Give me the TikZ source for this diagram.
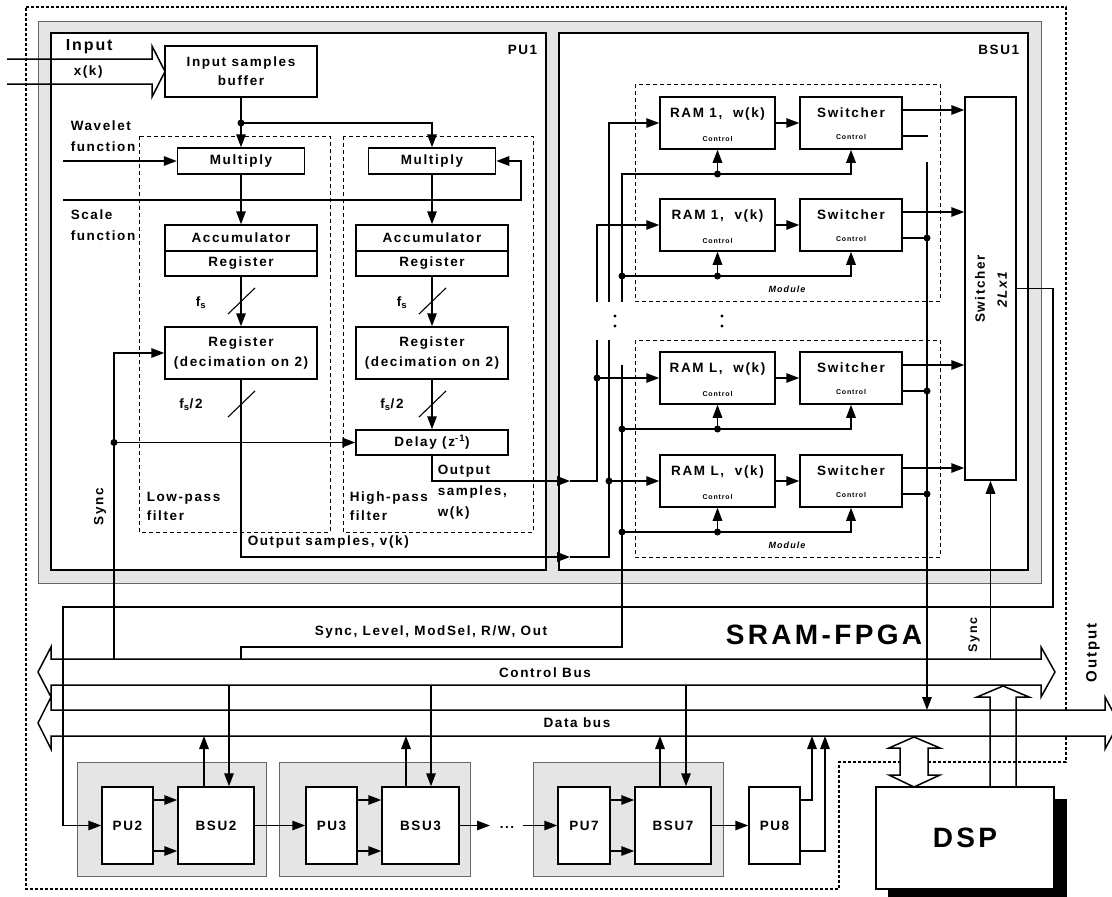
\documentclass[tikz,border=0pt]{standalone}
\usepackage{fontspec}
\setmainfont{Liberation Sans}[LetterSpace=12]
\usetikzlibrary{arrows.meta}
\newcommand\myfont[2]{\bfseries\fontsize{#1}{#2}\selectfont}
\begin{document}
\begin{tikzpicture}[x=1pt,y=-1pt,
  line width=1.5pt,
  >={Triangle[length=13pt,width=9.5pt]},
  blk/.style={draw,line width=1.5pt,fill=white,inner sep=0pt,font=\myfont{13.5}{19},align=center},
  tx/.style={inner sep=0pt,font=\myfont{13.5}{21}},
  small/.style={inner sep=0pt,font=\myfont{7}{8}},
  modl/.style={inner sep=0pt,font=\bfseries\itshape\fontsize{9}{10}\selectfont},
  fdash/.style={line width=0.8pt,dash pattern=on 4pt off 3pt},
  slash/.style={line width=1.1pt},
  hollow/.style={line width=1.5pt,fill=white,line join=miter},
]
\clip (0,0) rectangle (1112,897);
% outer dashed boundary (SRAM-FPGA)
\draw[line width=1.1pt,dash pattern=on 3pt off 2pt] (26,7) -- (1066,7) -- (1066,762) -- (839,762) -- (839,889) -- (26,889) -- cycle;
% gray frame and units
\draw[fill=gray!20,draw=black!60,line width=0.9pt] (38,21) rectangle (1041,583);
\draw[fill=white] (51,33) rectangle (546,570);
\draw[fill=white] (559,33) rectangle (1028,570);
\node[tx,anchor=east] at (538,50) {PU1};
\node[tx,anchor=east] at (1020,50) {BSU1};
% filter boxes
\draw[fdash] (139,136) rectangle (330,532);
\draw[fdash] (343,136) rectangle (533,532);
% modules
\draw[fdash] (635,84) rectangle (940,301);
\draw[fdash] (635,340) rectangle (940,557);
\node[modl] at (787,289) {Module};
\node[modl] at (787,545) {Module};

% input arrow
\draw[line join=miter] (7,59) -- (152,59) -- (152,46) -- (165,71.5) -- (152,97) -- (152,84) -- (7,84);
\node[tx,font=\myfont{16}{18},anchor=west] at (65,47) {Input};
\node[tx,anchor=west] at (73,72) {x(k)};

% PU1 blocks
\node[blk,minimum width=152,minimum height=51] (buf) at (241,71.5) {Input samples\\buffer};
\node[blk,minimum width=127,minimum height=26] (mulL) at (241,161) {Multiply};
\node[blk,minimum width=127,minimum height=26] (mulR) at (432,161) {Multiply};
\node[blk,minimum width=152,minimum height=26] (accL) at (241,238) {Accumulator};
\node[blk,minimum width=152,minimum height=25] (racL) at (241,263.5) {Register};
\node[blk,minimum width=152,minimum height=26] (accR) at (432,238) {Accumulator};
\node[blk,minimum width=152,minimum height=25] (racR) at (432,263.5) {Register};
\node[blk,minimum width=152,minimum height=52,font=\myfont{13.5}{20}] (regL) at (241,353) {Register\\(decimation on 2)};
\node[blk,minimum width=152,minimum height=52,font=\myfont{13.5}{20}] (regR) at (432,353) {Register\\(decimation on 2)};
\node[blk,minimum width=152,minimum height=25] (delay) at (432,442.5) {Delay (z\textsuperscript{-1})};

% texts PU1
\node[tx,anchor=west,align=left] at (70,136.5) {Wavelet\\function};
\node[tx,anchor=west,align=left] at (70,225.5) {Scale\\function};
\node[tx] at (201,303) {f\textsubscript{s}};
\node[tx] at (402,303) {f\textsubscript{s}};
\node[tx] at (191,405) {f\textsubscript{s}/2};
\node[tx] at (392,405) {f\textsubscript{s}/2};
\node[tx,anchor=west,align=left,font=\myfont{13.5}{19}] at (146,506.5) {Low-pass\\filter};
\node[tx,anchor=west,align=left,font=\myfont{13.5}{19}] at (349,506.5) {High-pass\\filter};
\node[tx,anchor=west,align=left] at (437,492) {Output\\samples,\\w(k)};
\node[tx,anchor=west] at (247,542) {Output samples, v(k)};
\node[tx,rotate=90] at (100,507) {Sync};

% PU1 connectors
\coordinate (d0) at (241,123);
\draw (buf.south) -- (d0);
\draw[->] (d0) -- (mulL.north);
\draw[->] (d0) -| (mulR.north);
\fill (d0) circle (3.5pt);
\coordinate (wav) at (63,161);
\draw[->] (wav) -- (mulL.west);
\coordinate (scl) at (63,200);
\coordinate (sclR) at (521,200);
\draw[->] (scl) -- (sclR) |- (mulR.east);
\draw[->] (mulL.south) -- (accL.north);
\draw[->] (mulR.south) -- (accR.north);
\draw[->] (racL.south) -- (regL.north);
\draw[->] (racR.south) -- (regR.north);
\draw[slash] (228,314) -- (255,288);
\draw[slash] (419,314) -- (446,288);
\draw[->] (regR.south) -- (delay.north);
\draw[slash] (419,417) -- (446,391);
\draw[slash] (228,417) -- (255,391);
% v(k) line
\coordinate (vkA) at (570,557);
\coordinate (vkC) at (609,557);
\draw[->] (regL.south) |- (vkA);
\draw (vkA) -- (vkC) -- (609,340);
% w(k) line
\coordinate (wkA) at (570,481);
\coordinate (wkC) at (597,481);
\draw[->] (delay.south) |- (wkA);
\draw (wkA) -- (wkC) -- (597,340);
% sync
\coordinate (syncB) at (114,659);
\coordinate (syncD) at (114,442.5);
\draw[->] (syncB) |- (regL.west);
\draw[->] (syncD) -- (delay.west);
\fill (syncD) circle (3.5pt);

% BSU1
\node[blk,minimum width=51,minimum height=383] (sw2L) at (990.5,288.5) {};
\node[tx,rotate=90,align=center,font=\myfont{13.5}{22}] at (991,289) {Switcher\\\textit{2Lx1}};
\foreach \i/\c/\t in {1/123/{RAM 1,\ \ w(k)},2/225/{RAM 1,\ \ v(k)},3/378/{RAM L,\ \ w(k)},4/481/{RAM L,\ \ v(k)}}{
  \node[blk,minimum width=115,minimum height=52] (ram\i) at (717.5,\c) {};
  \node[tx] at (717.5,\c-9) {\t};
  \node[small] at (717.5,\c+16) {Control};
  \node[blk,minimum width=102,minimum height=52] (sw\i) at (851,\c) {};
  \node[tx] at (851,\c-10) {Switcher};
  \node[small] at (851,\c+14) {Control};
  \draw[->] (ram\i) -- (sw\i);
  \draw[->] ([yshift=13pt]sw\i.east) -- ([yshift=13pt]sw\i.east -| sw2L.west);
  \coordinate (cd\i) at (717.5,\c+51);
  \draw[->] (cd\i) -- (ram\i.south);
  \draw[->] (cd\i) -| (sw\i.south);
  \fill (cd\i) circle (3.5pt);
}
% RAM inputs
\coordinate (g1) at (609,302);
\coordinate (g2) at (597,302);
\draw[->] (g1) |- (ram1.west);
\draw[->] (g2) |- (ram2.west);
\coordinate (j3) at (597,378);
\coordinate (j4) at (609,481);
\draw[->] (j3) -- (ram3.west);
\draw[->] (j4) -- (ram4.west);
\fill (j3) circle (3.5pt);
\fill (j4) circle (3.5pt);
% control line x=622
\coordinate (c0) at (622,302);
\draw (c0) |- (cd1);
\foreach \i/\c in {2/276,3/429,4/532}{
  \coordinate (cl\i) at (622,\c);
  \draw (cl\i) -- (cd\i);
  \fill (cl\i) circle (3.5pt);
}
\coordinate (c1) at (622,365);
\coordinate (c2) at (622,647);
\coordinate (c3) at (241,647);
\coordinate (c4) at (241,659);
\draw (c1) -- (c2) -- (c3) -- (c4);
% vertical dots
\foreach \x in {615,722}{
  \fill (\x,316) circle (1.6pt);
  \fill (\x,326) circle (1.6pt);
}
% second switcher outputs
\draw ([yshift=-13pt]sw1.east) -- ++(25,0);
\foreach \i in {2,3,4}{
  \coordinate (so\i) at ([yshift=-13pt]sw\i.east -| 927,0);
  \draw ([yshift=-13pt]sw\i.east) -- (so\i);
  \fill (so\i) circle (3.5pt);
}

% buses
\draw[hollow] (51,659) -- (1041,659) -- (1041,647) -- (1055,672) -- (1041,697) -- (1041,685) -- (51,685) -- (51,697) -- (38,672) -- (51,647) -- cycle;
\draw[hollow] (51,710) -- (1105,710) -- (1105,697) -- (1119,723) -- (1105,749) -- (1105,736) -- (51,736) -- (51,749) -- (38,723) -- (51,697) -- cycle;
\node[tx] at (545,673) {Control Bus};
\node[tx] at (577,723) {Data bus};
\coordinate (cbT) at (0,659);
\coordinate (cbB) at (0,685);
\coordinate (dbT) at (0,710);
\coordinate (dbB) at (0,736);

% status line to data bus
\coordinate (st0) at (927,162);
\draw[->] (st0) -- (st0 |- dbT);
% switcher 2Lx1 output loop
\coordinate (o1) at (1053,288.5);
\coordinate (o2) at (1053,607);
\coordinate (o3) at (63,607);
% sync to switcher
\coordinate (syncR) at (990.5,659);
\draw[->] (syncR) -- (sw2L.south);

% labels bottom
\node[tx] at (431,632) {Sync, Level, ModSel, R/W, Out};
\node[tx,font=\myfont{28}{30}] at (824,635) {SRAM-FPGA};
\node[tx,rotate=90,font=\myfont{12.5}{14}] at (974,635) {Sync};
\node[tx,rotate=90,font=\myfont{15}{17}] at (1093,653) {Output};

% bottom modules
\foreach \a/\b in {77/266,279/470,533/723}{
  \draw[fill=gray!20,draw=black!60,line width=0.9pt] (\a,762) rectangle (\b,876);
}
\node[blk,minimum width=51,minimum height=77] (pu2) at (127.5,825.5) {PU2};
\node[blk,minimum width=76,minimum height=77] (bsu2) at (216,825.5) {BSU2};
\node[blk,minimum width=51,minimum height=77] (pu3) at (331.5,825.5) {PU3};
\node[blk,minimum width=77,minimum height=77] (bsu3) at (420.5,825.5) {BSU3};
\node[blk,minimum width=52,minimum height=77] (pu7) at (584,825.5) {PU7};
\node[blk,minimum width=76,minimum height=77] (bsu7) at (673,825.5) {BSU7};
\node[blk,minimum width=51,minimum height=77] (pu8) at (774.5,825.5) {PU8};
\node[tx] (dots) at (507,827) {...};
\coordinate (dA) at (490,825.5);
\coordinate (dB) at (523,825.5);
\draw[->] (sw2L.east) -- (o1) -- (o2) -- (o3) |- (pu2.west);
\foreach \p/\q in {pu2/bsu2,pu3/bsu3,pu7/bsu7}{
  \draw[->] ([yshift=25.5pt]\p.east) -- ([yshift=25.5pt]\q.west);
  \draw[->] ([yshift=-25.5pt]\p.east) -- ([yshift=-25.5pt]\q.west);
}
\draw[->] (bsu2) -- (pu3);
\draw[->] (bsu3.east) -- (dA);
\draw[->] (dB) -- (pu7.west);
\draw[->] (bsu7) -- (pu8);
\foreach \n/\u/\d in {bsu2/-12/13,bsu3/-14.5/10.5,bsu7/-13/13}{
  \draw[->] ([xshift=\u pt]\n.north) -- ([xshift=\u pt]\n.north |- dbB);
  \draw[->] ([xshift=\d pt]\n.north |- cbB) -- ([xshift=\d pt]\n.north);
}
\coordinate (p8a) at (812,736);
\coordinate (p8b) at (825,736);
\draw[->] ([yshift=25.5pt]pu8.east) -| (p8a);
\draw[->] ([yshift=-25.5pt]pu8.east) -| (p8b);

% DSP
\fill (888,799) rectangle (1067,900);
\node[blk,minimum width=178,minimum height=102,font=\myfont{28}{30}] (dsp) at (965,838) {DSP};
\draw[hollow] (914,737) -- (940,748) -- (928,748) -- (928,775) -- (940,775) -- (914,787) -- (889,775) -- (900,775) -- (900,748) -- (889,748) -- cycle;
\draw[line join=miter] (990,787) -- (990,697) -- (977,697) -- (1003,686) -- (1029,697) -- (1016,697) -- (1016,787);
\end{tikzpicture}
\end{document}
